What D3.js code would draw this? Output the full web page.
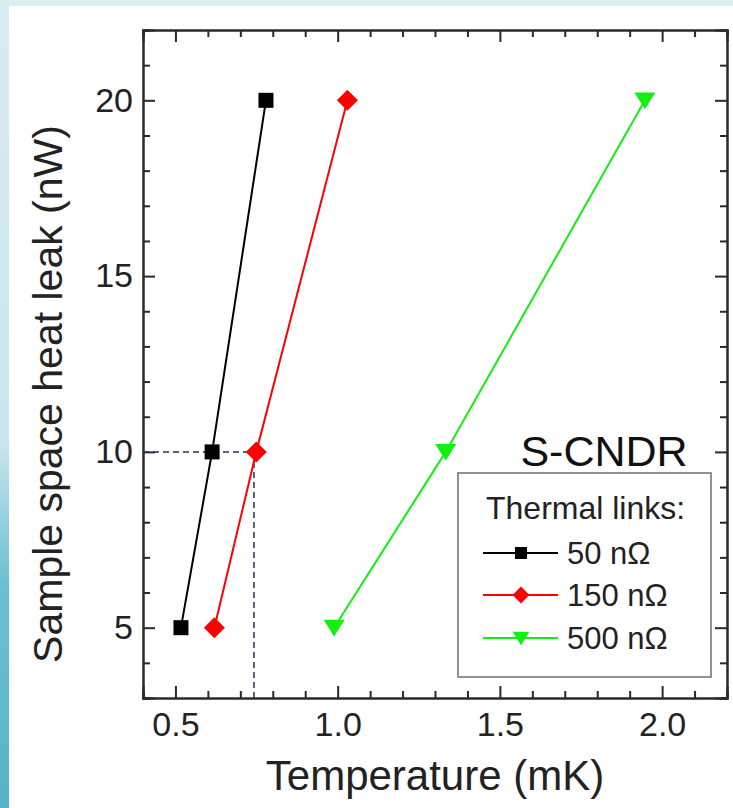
<!DOCTYPE html>
<html>
<head>
<meta charset="utf-8">
<script src="https://cdn.jsdelivr.net/npm/d3@7"></script>
<style>
  html, body { margin: 0; padding: 0; background: #fff; }
  svg { display: block; font-family: "Liberation Sans", Arial, sans-serif; }
</style>
</head>
<body>
<div id="chart"></div>
<script>
// data
const heatLeak = [5, 10, 20];                 // nW
const temp50 = [0.517, 0.613, 0.779];         // mK
const temp150 = [0.62, 0.749, 1.03];
const temp500 = [0.989, 1.333, 1.947];
const seriesNames = ['50 nΩ', '150 nΩ', '500 nΩ'];
const seriesColors = ['#000000', '#ff0000', '#11f011'];
const seriesSymbols = ['square', 'diamond', 'triangle'];
const xMajor = [0.5, 1.0, 1.5, 2.0];
const yMajor = [5, 10, 15, 20];
const guide = { temp: 0.742, leak: 10 };

const W = 733, H = 808;
const margin = { left: 143, right: 6, top: 30, bottom: 110 };

const svg = d3.select('#chart').append('svg')
    .attr('width', W)
    .attr('height', H);

// background frame (light blue gradient border of the screenshot)
const defs = svg.append('defs');
const g1 = defs.append('linearGradient').attr('id', 'leftGrad')
    .attr('x1', 0).attr('y1', 0).attr('x2', 0).attr('y2', 1);
g1.append('stop').attr('offset', '0%').attr('stop-color', '#d9edf2');
g1.append('stop').attr('offset', '55%').attr('stop-color', '#c9e5ed');
g1.append('stop').attr('offset', '72%').attr('stop-color', '#6cc0d3');
g1.append('stop').attr('offset', '100%').attr('stop-color', '#57b3c8');

svg.append('rect').attr('width', W).attr('height', H).attr('fill', '#dbeef3');
svg.append('rect').attr('x', 0).attr('y', 0).attr('width', 9).attr('height', H).attr('fill', 'url(#leftGrad)');
svg.append('rect').attr('x', 9).attr('y', 6).attr('width', W - 9).attr('height', H - 6).attr('fill', '#ffffff');

const x = d3.scaleLinear().domain([0.4, 2.2]).range([margin.left, W - margin.right]);
const y = d3.scaleLinear().domain([3, 22]).range([H - margin.bottom, margin.top]);

const axisColor = '#2a2a2a';
const minorX = d3.range(0.4, 2.21, 0.1).map(v => +v.toFixed(2)).filter(v => !xMajor.some(m => Math.abs(m - v) < 1e-6));
const minorY = d3.range(3, 22.01, 1).filter(v => !yMajor.includes(v));

function styleAxis(g) {
    g.select('.domain').attr('stroke', axisColor).attr('stroke-width', 2);
    g.selectAll('.tick line').attr('stroke', axisColor).attr('stroke-width', 2);
    g.selectAll('.tick text').attr('fill', '#222').style('font-size', '34px')
        .style('font-family', '"Liberation Sans", Arial, sans-serif');
}

const bottomY = y.range()[0], topY = y.range()[1];
const leftX = x.range()[0], rightX = x.range()[1];

// bottom axis
svg.append('g').attr('transform', `translate(0,${bottomY})`)
    .call(d3.axisBottom(x).tickValues(xMajor).tickFormat(d3.format('.1f')).tickSize(-12).tickPadding(14))
    .call(styleAxis);
svg.append('g').attr('transform', `translate(0,${bottomY})`)
    .call(d3.axisBottom(x).tickValues(minorX).tickFormat('').tickSize(-7))
    .call(styleAxis);
// top axis (mirror)
svg.append('g').attr('transform', `translate(0,${topY})`)
    .call(d3.axisTop(x).tickValues(xMajor).tickFormat('').tickSize(-12))
    .call(styleAxis);
svg.append('g').attr('transform', `translate(0,${topY})`)
    .call(d3.axisTop(x).tickValues(minorX).tickFormat('').tickSize(-7))
    .call(styleAxis);
// left axis
svg.append('g').attr('transform', `translate(${leftX},0)`)
    .call(d3.axisLeft(y).tickValues(yMajor).tickSize(-12).tickPadding(10))
    .call(styleAxis);
svg.append('g').attr('transform', `translate(${leftX},0)`)
    .call(d3.axisLeft(y).tickValues(minorY).tickFormat('').tickSize(-7))
    .call(styleAxis);
// right axis (mirror)
svg.append('g').attr('transform', `translate(${rightX},0)`)
    .call(d3.axisRight(y).tickValues(yMajor).tickFormat('').tickSize(-12))
    .call(styleAxis);
svg.append('g').attr('transform', `translate(${rightX},0)`)
    .call(d3.axisRight(y).tickValues(minorY).tickFormat('').tickSize(-7))
    .call(styleAxis);

// axis titles
svg.append('text')
    .attr('x', (leftX + rightX) / 2)
    .attr('y', 790)
    .attr('text-anchor', 'middle')
    .attr('fill', '#222')
    .style('font-size', '42px')
    .text('Temperature (mK)');

svg.append('text')
    .attr('transform', `translate(62,${(topY + bottomY) / 2 + 30}) rotate(-90)`)
    .attr('text-anchor', 'middle')
    .attr('fill', '#222')
    .style('font-size', '41px')
    .text('Sample space heat leak (nW)');

// dashed guide lines
const guideColor = '#1f3358';
svg.append('line')
    .attr('x1', leftX).attr('x2', x(guide.temp))
    .attr('y1', y(guide.leak)).attr('y2', y(guide.leak))
    .attr('stroke', guideColor).attr('stroke-width', 1.5).attr('stroke-dasharray', '6,4');
svg.append('line')
    .attr('x1', x(guide.temp)).attr('x2', x(guide.temp))
    .attr('y1', y(guide.leak)).attr('y2', bottomY)
    .attr('stroke', guideColor).attr('stroke-width', 1.5).attr('stroke-dasharray', '6,4');

// series
const series = [temp50, temp150, temp500].map((temps, i) => ({
    name: seriesNames[i],
    color: seriesColors[i],
    symbol: seriesSymbols[i],
    points: temps.map((t, j) => ({ t: t, q: heatLeak[j] }))
}));

function symbolPath(kind, size) {
    if (kind === 'square') return d3.symbol(d3.symbolSquare, size * size)();
    if (kind === 'diamond') {
        const h = size / 2;
        return `M0,${-h}L${h},0L0,${h}L${-h},0Z`;
    }
    // downward triangle
    const h = size / 2;
    return `M${-h},${-h * 0.75}L${h},${-h * 0.75}L0,${h * 0.85}Z`;
}
const markerSize = { square: 15, diamond: 21, triangle: 21 };

const line = d3.line().x(d => x(d.t)).y(d => y(d.q));

series.forEach(s => {
    svg.append('path')
        .datum(s.points)
        .attr('d', line)
        .attr('fill', 'none')
        .attr('stroke', s.color)
        .attr('stroke-width', 2);
    svg.append('g').selectAll('path')
        .data(s.points)
        .enter()
        .append('path')
        .attr('transform', d => `translate(${x(d.t)},${y(d.q)})`)
        .attr('d', symbolPath(s.symbol, markerSize[s.symbol]))
        .attr('fill', s.color);
});

// S-CNDR label
svg.append('text')
    .attr('x', 604)
    .attr('y', 466)
    .attr('text-anchor', 'middle')
    .attr('fill', '#111')
    .style('font-size', '43px')
    .text('S-CNDR');

// legend
const legend = svg.append('g');
legend.append('rect')
    .attr('x', 458).attr('y', 473)
    .attr('width', 253).attr('height', 204)
    .attr('fill', '#fff')
    .attr('stroke', '#6e6e6e')
    .attr('stroke-width', 1.5);
legend.append('text')
    .attr('x', 486).attr('y', 519)
    .attr('fill', '#222')
    .style('font-size', '32px')
    .text('Thermal links:');

const rowY = [553, 595, 638];
series.forEach((s, i) => {
    const row = legend.append('g').attr('transform', `translate(0,${rowY[i]})`);
    row.append('line')
        .attr('x1', 483).attr('x2', 558)
        .attr('stroke', s.color).attr('stroke-width', 2);
    row.append('path')
        .attr('transform', 'translate(521,0)')
        .attr('d', symbolPath(s.symbol, markerSize[s.symbol] * 0.8))
        .attr('fill', s.color);
    row.append('text')
        .attr('x', 567).attr('y', 0)
        .attr('dy', '0.36em')
        .attr('fill', '#222')
        .style('font-size', '31px')
        .text(s.name);
});
</script>
</body>
</html>
